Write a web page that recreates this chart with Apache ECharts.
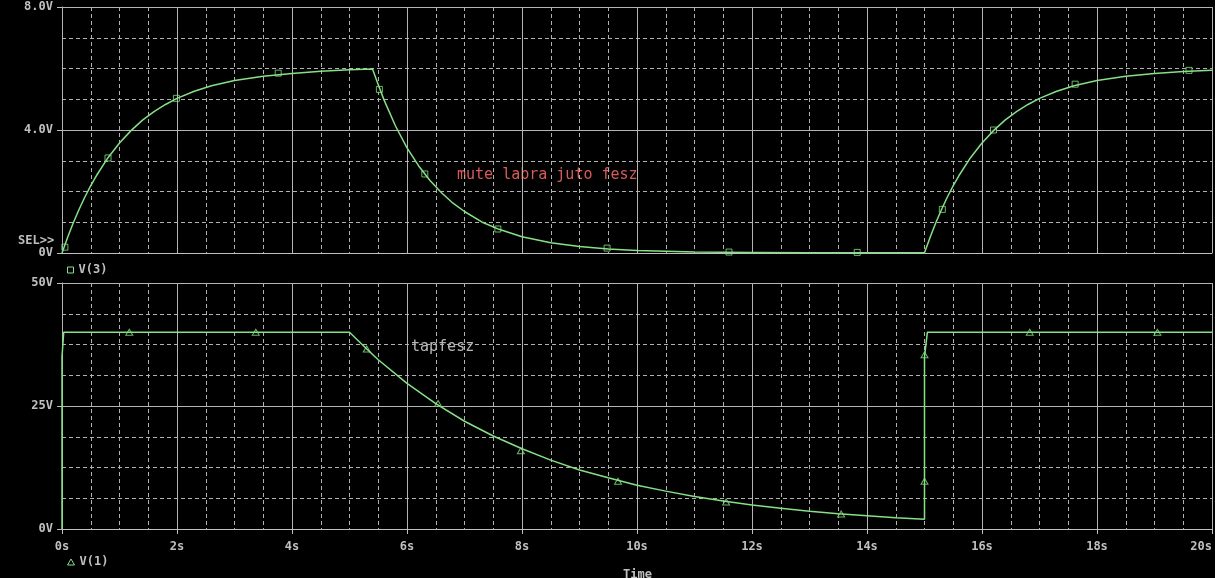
<!DOCTYPE html>
<html>
<head>
  <meta charset="UTF-8">
  <title>V(3) / V(1) transient</title>
  <style>
    html, body { margin: 0; padding: 0; background: #000; overflow: hidden; }
    #chart { width: 1215px; height: 578px; }
  </style>
  <script src="https://cdn.jsdelivr.net/npm/echarts@6/dist/echarts.min.js"></script>
</head>
<body>
<div id="chart"></div>
<script>
  // V(3) (time s, volts)
  var v3Time = [0, 0.1, 0.2, 0.3, 0.4, 0.5, 0.6, 0.8, 1.0, 1.2, 1.4, 1.6, 1.8, 2.0, 2.3, 2.6, 3.0, 3.5, 4.0, 4.5, 5.0, 5.4,
                5.5, 5.6, 5.8, 6.0, 6.2, 6.4, 6.6, 6.8, 7.0, 7.3, 7.6, 8.0, 8.5, 9.0, 9.5, 10, 11, 12, 13, 14, 15.0,
                15.1, 15.2, 15.3, 15.4, 15.5, 15.6, 15.8, 16.0, 16.2, 16.4, 16.6, 16.8, 17.0, 17.3, 17.6, 18.0, 18.5, 19.0, 19.5, 20];
  var v3Volt = [0, 0.52, 1.00, 1.43, 1.83, 2.19, 2.52, 3.10, 3.58, 3.98, 4.32, 4.60, 4.83, 5.03, 5.26, 5.44, 5.61, 5.75, 5.84, 5.91, 5.96, 5.98,
                5.47, 4.98, 4.13, 3.42, 2.84, 2.36, 1.96, 1.62, 1.35, 1.01, 0.77, 0.53, 0.33, 0.21, 0.13, 0.08, 0.03, 0.02, 0.01, 0.01, 0.01,
                0.52, 1.00, 1.43, 1.83, 2.19, 2.52, 3.10, 3.58, 3.98, 4.32, 4.60, 4.83, 5.03, 5.26, 5.44, 5.61, 5.75, 5.84, 5.90, 5.94];
  var v3MarkTime = [0.05, 0.8, 1.99, 3.76, 5.52, 6.31, 7.58, 9.48, 11.6, 13.83, 15.31, 16.2, 17.62, 19.6];
  var v3MarkVolt = [0.19, 3.09, 5.03, 5.85, 5.32, 2.57, 0.78, 0.16, 0.03, 0.02, 1.42, 4.0, 5.49, 5.94];

  // V(1)
  var v1Time = [0, 0, 0.03, 5.0, 5.3, 5.5, 6.0, 6.5, 7.0, 7.5, 8.0, 8.5, 9.0, 9.5, 10.0, 10.5, 11.0, 11.5, 12.0, 12.5,
                13.0, 13.5, 14.0, 14.5, 15.0, 15.0, 15.05, 20];
  var v1Volt = [0, 35, 40, 40, 36.6, 34.4, 29.6, 25.5, 21.9, 18.9, 16.3, 14.0, 12.0, 10.4, 8.9, 7.7, 6.6, 5.7, 4.9, 4.2,
                3.6, 3.1, 2.7, 2.3, 2.0, 35, 40, 40];
  var v1MarkTime = [1.17, 3.37, 5.3, 6.54, 7.98, 9.67, 11.55, 13.55, 15.0, 15.0, 16.83, 19.05];
  var v1MarkVolt = [40, 40, 36.6, 25.5, 15.9, 9.7, 5.5, 3.05, 9.7, 35.4, 40, 40];

  var topTicks = {0: '0V', 4: '4.0V', 8: '8.0V'};

  function pairs(xs, ys) {
    return xs.map(function (x, i) { return [x, ys[i]]; });
  }

  var green = '#86e086';
  var grey = '#c0c0c0';
  var mono = 'DejaVu Sans Mono';
  var dashLine = {color: '#b0b0b0', width: 1, type: [4, 3]};

  function xAxisCfg(idx, labels) {
    return {
      gridIndex: idx, type: 'value', min: 0, max: 20, interval: 2, z: 3,
      axisLine: {lineStyle: {color: grey, width: 1}},
      axisTick: {show: labels, length: 5, lineStyle: {color: grey}},
      axisLabel: {
        show: labels, color: grey, fontFamily: mono, fontSize: 12, fontWeight: 'bold', margin: 12,
        alignMaxLabel: 'right',
        formatter: function (v) { return v + 's'; }
      },
      splitLine: {show: true, lineStyle: {color: '#b4b4b4', width: 1}}
    };
  }

  // hidden axis only used for the dashed 0.5 s grid
  function xMinorCfg(idx) {
    return {
      gridIndex: idx, type: 'value', min: 0, max: 20, interval: 0.5, position: 'bottom', z: 1,
      axisLine: {show: false}, axisTick: {show: false}, axisLabel: {show: false},
      splitLine: {show: true, lineStyle: dashLine}
    };
  }

  function yAxisCfg(idx, max, interval, fmt) {
    return {
      gridIndex: idx, type: 'value', min: 0, max: max, interval: interval,
      axisLine: {show: true, lineStyle: {color: grey, width: 1}},
      axisTick: {show: true, length: 5, lineStyle: {color: grey}},
      axisLabel: {color: grey, fontFamily: mono, fontSize: 12, fontWeight: 'bold', margin: 9, formatter: fmt},
      splitLine: {show: true, lineStyle: {color: '#b4b4b4', width: 1}},
      minorTick: {show: true, splitNumber: 4, length: 0, lineStyle: {color: 'rgba(0,0,0,0)'}},
      minorSplitLine: {show: true, lineStyle: dashLine}
    };
  }

  var myChart = echarts.init(document.getElementById('chart'));

  var option = {
    backgroundColor: '#000',
    animation: false,
    grid: [
      {left: 62, top: 7, width: 1150, height: 246},
      {left: 62, top: 283, width: 1150, height: 246}
    ],
    xAxis: [xAxisCfg(0, false), xAxisCfg(1, true), xMinorCfg(0), xMinorCfg(1)],
    yAxis: [
      yAxisCfg(0, 8, 4, function (v) { return topTicks[v]; }),
      yAxisCfg(1, 50, 25, function (v) { return v + 'V'; })
    ],
    legend: [
      {
        left: 62, top: 259, itemWidth: 6, itemHeight: 6, itemGap: 8,
        textStyle: {color: grey, fontFamily: mono, fontSize: 12, fontWeight: 'bold'},
        selectedMode: false,
        data: [{name: 'V(3)', icon: 'rect', itemStyle: {color: '#000', borderColor: green, borderWidth: 1}}]
      },
      {
        left: 62, top: 551, itemWidth: 7, itemHeight: 6, itemGap: 8,
        textStyle: {color: grey, fontFamily: mono, fontSize: 12, fontWeight: 'bold'},
        selectedMode: false,
        data: [{name: 'V(1)', icon: 'triangle', itemStyle: {color: '#000', borderColor: green, borderWidth: 1}}]
      }
    ],
    graphic: [
      {type: 'text', left: 18, top: 235, style: {text: 'SEL>>', fill: grey, font: 'bold 12px "DejaVu Sans Mono"'}},
      {type: 'text', left: 457, top: 168, style: {text: 'mute labra juto fesz', fill: '#d85a5a', font: '15px "DejaVu Sans Mono"'}},
      {type: 'text', left: 411, top: 340, style: {text: 'tapfesz', fill: '#b8b8b8', font: '15px "DejaVu Sans Mono"'}},
      {type: 'text', left: 623, top: 569, style: {text: 'Time', fill: grey, font: 'bold 12px "DejaVu Sans Mono"'}}
    ],
    series: [
      {
        name: 'V(3)', type: 'line', xAxisIndex: 0, yAxisIndex: 0,
        data: pairs(v3Time, v3Volt), showSymbol: false, symbol: 'none',
        lineStyle: {color: green, width: 1.5}, itemStyle: {color: green}
      },
      {
        name: 'V(3) marks', type: 'scatter', xAxisIndex: 0, yAxisIndex: 0,
        data: pairs(v3MarkTime, v3MarkVolt), symbol: 'rect', symbolSize: 6,
        itemStyle: {color: '#000', borderColor: green, borderWidth: 1}
      },
      {
        name: 'V(1)', type: 'line', xAxisIndex: 1, yAxisIndex: 1,
        data: pairs(v1Time, v1Volt), showSymbol: false, symbol: 'none',
        lineStyle: {color: green, width: 1.5}, itemStyle: {color: green}
      },
      {
        name: 'V(1) marks', type: 'scatter', xAxisIndex: 1, yAxisIndex: 1,
        data: pairs(v1MarkTime, v1MarkVolt), symbol: 'triangle', symbolSize: [7, 6],
        itemStyle: {color: '#000', borderColor: green, borderWidth: 1}
      }
    ]
  };

  myChart.setOption(option);
</script>
</body>
</html>
